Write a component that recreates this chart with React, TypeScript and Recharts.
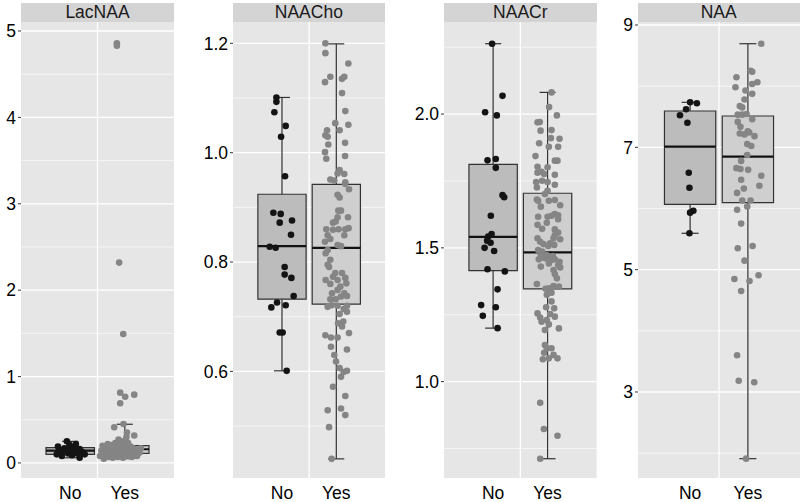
import React from 'react';
import {
  ComposedChart,
  Scatter,
  XAxis,
  YAxis,
  CartesianGrid,
  ReferenceArea,
  ReferenceLine,
} from 'recharts';

// ---------- categories ----------
const groups = ['No', 'Yes'];
const groupPos = [0.786, 1.214];
const panelTitles = ['LacNAA', 'NAACho', 'NAACr', 'NAA'];

// ---------- y tick labels ----------
const lacTicks = [0, 1, 2, 3, 4, 5];
const lacMinor = [0.5, 1.5, 2.5, 3.5, 4.5];
const choTicks = [0.6, 0.8, 1.0, 1.2];
const choMinor = [0.5, 0.7, 0.9, 1.1];
const crTicks = [1.0, 1.5, 2.0];
const crMinor = [0.75, 1.25, 1.75, 2.25];
const naaTicks = [3, 5, 7, 9];
const naaMinor = [2, 4, 6, 8];

// ---------- box statistics [min, q1, median, q3, max] for No, Yes ----------
const lacBox = [
  [0.06, 0.1, 0.142, 0.177, 0.25],
  [0.05, 0.112, 0.159, 0.2, 0.448],
];
const choBox = [
  [0.601, 0.732, 0.829, 0.924, 1.101],
  [0.44, 0.723, 0.826, 0.942, 1.199],
];
const crBox = [
  [1.2, 1.415, 1.541, 1.812, 2.263],
  [0.712, 1.347, 1.483, 1.704, 2.081],
];
const naaBox = [
  [5.595, 6.069, 7.01, 7.594, 7.736],
  [1.91, 6.095, 6.847, 7.512, 8.694],
];

// ---------- jittered observations [jitter x, value] ----------
const lacNo = [
  [0.86, 0.06], [0.72, 0.08], [0.8, 0.09], [0.68, 0.1], [0.9, 0.1], [0.77, 0.11], [0.84, 0.11],
  [0.71, 0.12], [0.88, 0.13], [0.75, 0.14], [0.82, 0.14], [0.7, 0.15], [0.79, 0.15], [0.86, 0.16],
  [0.74, 0.17], [0.81, 0.18], [0.69, 0.19], [0.78, 0.21], [0.83, 0.22], [0.76, 0.25],
];
const lacYes = [
  [1.152, 4.858], [1.152, 4.83], [1.17, 2.319], [1.202, 1.493], [1.178, 0.814], [1.217, 0.767],
  [1.288, 0.791], [1.178, 0.691], [1.204, 0.451], [1.131, 0.413], [1.231, 0.352], [1.288, 0.318],
  [1.227, 0.3], [1.165, 0.272],
  [1.05, 0.05], [1.12, 0.06], [1.2, 0.06], [1.27, 0.07], [1.09, 0.07], [1.16, 0.07], [1.24, 0.08],
  [1.31, 0.08], [1.07, 0.08], [1.14, 0.09], [1.22, 0.09], [1.29, 0.09], [1.04, 0.1], [1.11, 0.1],
  [1.18, 0.1], [1.26, 0.1], [1.08, 0.11], [1.15, 0.11], [1.23, 0.11], [1.3, 0.11], [1.06, 0.12],
  [1.13, 0.12], [1.21, 0.12], [1.28, 0.12], [1.1, 0.13], [1.17, 0.13], [1.25, 0.13], [1.32, 0.13],
  [1.05, 0.14], [1.19, 0.14], [1.27, 0.14], [1.09, 0.15], [1.14, 0.15], [1.22, 0.15], [1.3, 0.15],
  [1.07, 0.16], [1.16, 0.16], [1.24, 0.16], [1.11, 0.17], [1.2, 0.17], [1.28, 0.17], [1.06, 0.18],
  [1.13, 0.18], [1.25, 0.18], [1.09, 0.19], [1.18, 0.19], [1.26, 0.19], [1.04, 0.2], [1.15, 0.2],
  [1.23, 0.2], [1.12, 0.21], [1.21, 0.21], [1.08, 0.22], [1.19, 0.22], [1.14, 0.23], [1.24, 0.23],
  [1.17, 0.24], [1.2, 0.25], [1.22, 0.26], [1.33, 0.12], [1.03, 0.14], [1.29, 0.16], [1.1, 0.18],
  [1.31, 0.1], [1.02, 0.08], [1.26, 0.13], [1.12, 0.15], [1.34, 0.17], [1.3, 0.09], [1.08, 0.11],
];
const choNo = [
  [0.742, 1.101], [0.742, 1.093], [0.726, 1.074], [0.815, 1.049], [0.779, 1.029], [0.81, 0.957],
  [0.718, 0.89], [0.776, 0.888], [0.768, 0.872], [0.865, 0.876], [0.857, 0.85], [0.689, 0.828],
  [0.736, 0.826], [0.807, 0.791], [0.807, 0.777], [0.86, 0.771], [0.878, 0.738], [0.747, 0.726],
  [0.815, 0.721], [0.702, 0.717], [0.768, 0.671], [0.791, 0.671], [0.823, 0.601],
];
const choYes = [
  [1.128, 1.2], [1.128, 1.182], [1.309, 1.163], [1.167, 1.139], [1.125, 1.129], [1.277, 1.139],
  [1.259, 1.135], [1.259, 1.109], [1.285, 1.076], [1.206, 1.054], [1.309, 1.051], [1.141, 1.041],
  [1.128, 1.032], [1.146, 1.029], [1.24, 1.041], [1.151, 1.015], [1.283, 1.018], [1.125, 1.001],
  [1.135, 0.989], [1.283, 0.994], [1.24, 0.968], [1.224, 0.962], [1.277, 0.961], [1.167, 0.951],
  [1.198, 0.949], [1.285, 0.946], [1.314, 0.933], [1.283, 0.943], [1.224, 0.923], [1.24, 0.918],
  [1.23, 0.894], [1.251, 0.894], [1.306, 0.882], [1.224, 0.882], [1.209, 0.874], [1.188, 0.872],
  [1.135, 0.86], [1.188, 0.859], [1.232, 0.86], [1.285, 0.86], [1.311, 0.862], [1.146, 0.849],
  [1.277, 0.849], [1.167, 0.842], [1.125, 0.837], [1.224, 0.831], [1.251, 0.829], [1.146, 0.822],
  [1.13, 0.816], [1.167, 0.804], [1.146, 0.795], [1.157, 0.791], [1.206, 0.78], [1.259, 0.78],
  [1.188, 0.773], [1.224, 0.767], [1.285, 0.771], [1.13, 0.767], [1.167, 0.76], [1.246, 0.755],
  [1.224, 0.749], [1.293, 0.761], [1.18, 0.743], [1.277, 0.743], [1.251, 0.737], [1.298, 0.738],
  [1.167, 0.732], [1.209, 0.732], [1.146, 0.718], [1.177, 0.721], [1.224, 0.72], [1.298, 0.72],
  [1.272, 0.714], [1.24, 0.705], [1.298, 0.709], [1.228, 0.688], [1.259, 0.682], [1.269, 0.691],
  [1.128, 0.666], [1.172, 0.662], [1.224, 0.662], [1.314, 0.67], [1.172, 0.645], [1.298, 0.64],
  [1.198, 0.63], [1.212, 0.618], [1.24, 0.606], [1.272, 0.599], [1.298, 0.601], [1.251, 0.59],
  [1.188, 0.572], [1.285, 0.555], [1.146, 0.529], [1.251, 0.532], [1.285, 0.52], [1.157, 0.498],
  [1.177, 0.44],
];
const crNo = [
  [0.778, 2.263], [0.86, 2.068], [0.723, 2.007], [0.815, 1.995], [0.742, 1.827], [0.807, 1.832],
  [0.807, 1.799], [0.86, 1.697], [0.873, 1.689], [0.768, 1.62], [0.774, 1.552], [0.747, 1.542],
  [0.739, 1.527], [0.766, 1.519], [0.719, 1.5], [0.794, 1.488], [0.742, 1.42], [0.878, 1.412],
  [0.821, 1.345], [0.692, 1.286], [0.807, 1.278], [0.705, 1.246], [0.821, 1.2],
];
const crYes = [
  [1.245, 2.081], [1.226, 2.026], [1.287, 1.995], [1.135, 1.969], [1.153, 1.97], [1.159, 1.938],
  [1.245, 1.94], [1.24, 1.91], [1.308, 1.908], [1.148, 1.891], [1.224, 1.878], [1.297, 1.878],
  [1.119, 1.843], [1.271, 1.826], [1.292, 1.826], [1.135, 1.803], [1.214, 1.801],
  [1.135, 1.781], [1.167, 1.784], [1.187, 1.776], [1.271, 1.773], [1.124, 1.746], [1.171, 1.751],
  [1.214, 1.746], [1.271, 1.736], [1.13, 1.726], [1.214, 1.713], [1.193, 1.701], [1.13, 1.681],
  [1.14, 1.676], [1.224, 1.676], [1.271, 1.679], [1.161, 1.654], [1.313, 1.659], [1.271, 1.626],
  [1.297, 1.622], [1.14, 1.616], [1.214, 1.616], [1.245, 1.62], [1.297, 1.607], [1.208, 1.594],
  [1.135, 1.586], [1.171, 1.571], [1.271, 1.569], [1.297, 1.557], [1.271, 1.548], [1.313, 1.532],
  [1.261, 1.536], [1.135, 1.536], [1.156, 1.523], [1.182, 1.514], [1.219, 1.507], [1.266, 1.511],
  [1.234, 1.517], [1.14, 1.492], [1.171, 1.486], [1.161, 1.473], [1.206, 1.473], [1.23, 1.467],
  [1.255, 1.469], [1.193, 1.461], [1.245, 1.455], [1.271, 1.457], [1.308, 1.448], [1.145, 1.457],
  [1.224, 1.442], [1.297, 1.436], [1.261, 1.417], [1.271, 1.402], [1.313, 1.427], [1.287, 1.386],
  [1.161, 1.43], [1.13, 1.365], [1.261, 1.357], [1.303, 1.355], [1.224, 1.349], [1.198, 1.347],
  [1.208, 1.325], [1.245, 1.332], [1.245, 1.3], [1.266, 1.274], [1.203, 1.278], [1.135, 1.255],
  [1.156, 1.24], [1.234, 1.253], [1.271, 1.243], [1.167, 1.224], [1.208, 1.23], [1.224, 1.214],
  [1.193, 1.193], [1.303, 1.199], [1.193, 1.137], [1.208, 1.125], [1.187, 1.108], [1.245, 1.125],
  [1.261, 1.1], [1.224, 1.087], [1.292, 1.087], [1.177, 1.084],
  [1.156, 0.921], [1.185, 0.823], [1.292, 0.798], [1.156, 0.712],
];
const naaNo = [
  [0.786, 7.736], [0.836, 7.72], [0.756, 7.622], [0.711, 7.524], [0.766, 7.403], [0.776, 6.585],
  [0.781, 6.34], [0.81, 5.964], [0.786, 5.932], [0.781, 5.595],
];
const naaYes = [
  [1.313, 8.694], [1.234, 8.252], [1.246, 8.236], [1.129, 8.145], [1.284, 8.064], [1.246, 8.036],
  [1.122, 7.983], [1.196, 7.928], [1.246, 7.874], [1.189, 7.782], [1.154, 7.675], [1.172, 7.653],
  [1.139, 7.534], [1.172, 7.534], [1.204, 7.546], [1.246, 7.458], [1.139, 7.416], [1.159, 7.335],
  [1.213, 7.264], [1.154, 7.227], [1.189, 7.211], [1.224, 7.243], [1.263, 7.183], [1.209, 7.053],
  [1.239, 7.021], [1.209, 6.875], [1.164, 6.778], [1.129, 6.66], [1.159, 6.644], [1.216, 6.632],
  [1.313, 6.535], [1.164, 6.47], [1.299, 6.373], [1.184, 6.325], [1.134, 6.255], [1.172, 6.13],
  [1.234, 6.13], [1.134, 5.98], [1.209, 6.033], [1.164, 5.753], [1.139, 5.349], [1.249, 5.387],
  [1.189, 5.147], [1.114, 4.847], [1.226, 4.815], [1.293, 4.908], [1.164, 4.651], [1.134, 3.6],
  [1.146, 3.185], [1.261, 3.159], [1.201, 1.91],
];

// ---------- styling ----------
const FONT = '"Liberation Sans", Arial, Helvetica, sans-serif';
const PANEL_BG = '#e6e6e6';
const STRIP_BG = '#d4d4d4';
const BOX_FILL = ['#bcbcbc', '#cfcfcf'];
const POINT_FILL = ['#141414', '#858585'];
const LINE = '#333333';
const BOX_HALF = 0.19;
const CAP_HALF = 0.063;

const toPts = (a: number[][]) => a.map(([x, y]) => ({ x, y }));

const panels = [
  { title: panelTitles[0], left: 21, width: 153, axisW: 21, domain: [-0.174, 5.104], ticks: lacTicks, minor: lacMinor, digits: 0, box: lacBox, pts: [lacNo, lacYes] },
  { title: panelTitles[1], left: 232.7, width: 152.3, axisW: 44, domain: [0.405, 1.239], ticks: choTicks, minor: choMinor, digits: 1, box: choBox, pts: [choNo, choYes] },
  { title: panelTitles[2], left: 444, width: 152.7, axisW: 44, domain: [0.64, 2.344], ticks: crTicks, minor: crMinor, digits: 1, box: crBox, pts: [crNo, crYes] },
  { title: panelTitles[3], left: 637.7, width: 162, axisW: 30, domain: [1.594, 9.049], ticks: naaTicks, minor: naaMinor, digits: 0, box: naaBox, pts: [naaNo, naaYes] },
];

const makeDot = (color: string) => (props: any) => (
  <circle cx={props.cx} cy={props.cy} r={3.3} fill={color} />
);

function Panel({ p }: { p: (typeof panels)[number] }) {
  const chartW = p.axisW + p.width;
  return (
    <div style={{ position: 'absolute', left: p.left - p.axisW, top: 0, width: chartW, height: 502 }}>
      <div
        style={{
          position: 'absolute',
          left: p.axisW,
          top: 3,
          width: p.width,
          height: 19.5,
          background: STRIP_BG,
          color: '#1a1a1a',
          fontFamily: FONT,
          fontSize: 17.5,
          lineHeight: '19.5px',
          textAlign: 'center',
          overflow: 'hidden',
        }}
      >
        {p.title}
      </div>
      <ComposedChart width={chartW} height={502} margin={{ top: 22, right: 0, bottom: 0, left: 0 }}>
        <CartesianGrid fill={PANEL_BG} stroke="#ffffff" strokeWidth={0.6} horizontalValues={p.minor} vertical={false} />
        <CartesianGrid stroke="#ffffff" strokeWidth={1.3} horizontalValues={p.ticks} verticalValues={[1]} />
        <XAxis
          type="number"
          dataKey="x"
          domain={[0.4, 1.6]}
          allowDataOverflow
          ticks={groupPos}
          interval={0}
          tickFormatter={(_v: number, i: number) => groups[i]}
          axisLine={false}
          tickLine={false}
          tickSize={0}
          tickMargin={9}
          height={24}
          tick={{ fontSize: 17.5, fill: '#000', fontFamily: FONT }}
        />
        <YAxis
          type="number"
          dataKey="y"
          domain={p.domain}
          allowDataOverflow
          ticks={p.ticks}
          interval={0}
          width={p.axisW}
          axisLine={false}
          tickSize={3}
          tickMargin={2}
          tickLine={{ stroke: LINE, strokeWidth: 1 }}
          tickFormatter={(v: number) => v.toFixed(p.digits)}
          tick={{ fontSize: 17.5, fill: '#000', fontFamily: FONT }}
        />
        {p.box.map((s, i) => (
          <ReferenceArea
            key={'box' + i}
            x1={groupPos[i] - BOX_HALF}
            x2={groupPos[i] + BOX_HALF}
            y1={s[1]}
            y2={s[3]}
            fill={BOX_FILL[i]}
            fillOpacity={1}
            stroke={LINE}
            strokeWidth={1.2}
          />
        ))}
        {p.box.map((s, i) => (
          <ReferenceLine key={'wl' + i} segment={[{ x: groupPos[i], y: s[0] }, { x: groupPos[i], y: s[1] }]} stroke={LINE} strokeWidth={1.2} />
        ))}
        {p.box.map((s, i) => (
          <ReferenceLine key={'wh' + i} segment={[{ x: groupPos[i], y: s[3] }, { x: groupPos[i], y: s[4] }]} stroke={LINE} strokeWidth={1.2} />
        ))}
        {p.box.map((s, i) => (
          <ReferenceLine key={'cl' + i} segment={[{ x: groupPos[i] - CAP_HALF, y: s[0] }, { x: groupPos[i] + CAP_HALF, y: s[0] }]} stroke={LINE} strokeWidth={1.2} />
        ))}
        {p.box.map((s, i) => (
          <ReferenceLine key={'ch' + i} segment={[{ x: groupPos[i] - CAP_HALF, y: s[4] }, { x: groupPos[i] + CAP_HALF, y: s[4] }]} stroke={LINE} strokeWidth={1.2} />
        ))}
        {p.box.map((s, i) => (
          <ReferenceLine key={'md' + i} segment={[{ x: groupPos[i] - BOX_HALF, y: s[2] }, { x: groupPos[i] + BOX_HALF, y: s[2] }]} stroke="#111" strokeWidth={2.2} />
        ))}
        {p.pts.map((arr, i) => (
          <Scatter
            key={'pts' + i}
            name={groups[i]}
            data={toPts(arr)}
            fill={POINT_FILL[i]}
            shape={makeDot(POINT_FILL[i])}
            isAnimationActive={false}
          />
        ))}
      </ComposedChart>
    </div>
  );
}

export default function App() {
  return (
    <div style={{ position: 'absolute', left: 0, top: 0, width: 800, height: 502, background: '#ffffff', overflow: 'hidden' }}>
      {panels.map((p) => (
        <Panel key={p.title} p={p} />
      ))}
    </div>
  );
}
